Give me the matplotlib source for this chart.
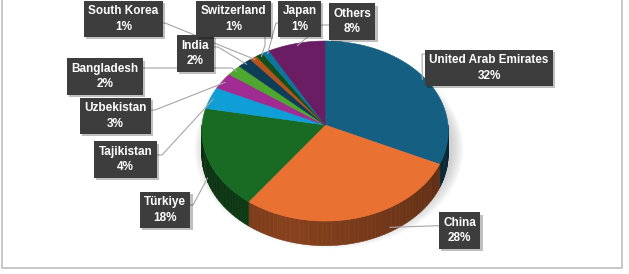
import numpy as np
import matplotlib
matplotlib.use("Agg")
import matplotlib.pyplot as plt
from matplotlib.patches import Polygon, Rectangle
from matplotlib import patheffects as pe
from matplotlib.colors import to_rgb

# ---------------- data ----------------
countries = ["United Arab Emirates", "China", "Türkiye", "Tajikistan", "Uzbekistan",
             "Bangladesh", "India", "South Korea", "Switzerland", "Japan", "Others"]
shares = [32, 28, 18, 4, 3, 2, 2, 1, 1, 1, 8]
pct_labels = ["32%", "28%", "18%", "4%", "3%", "2%", "2%", "1%", "1%", "1%", "8%"]
colors = ["#156082", "#E97132", "#196B24", "#0F9ED5", "#A02B93", "#4EA72E",
          "#0E3E57", "#B5531C", "#124F1A", "#0B76A0", "#6B1D63"]

# ---------------- layout (pixels) ----------------
label_pos = {
    "United Arab Emirates": (489, 68), "China": (459.5, 230.5), "Türkiye": (165, 210),
    "Tajikistan": (125.5, 159.5), "Uzbekistan": (115.5, 116), "Bangladesh": (105, 76.5),
    "India": (195.5, 53.5), "South Korea": (123.5, 19), "Switzerland": (233.5, 19),
    "Japan": (299.5, 19), "Others": (352, 21.5),
}
routes = {
    "United Arab Emirates": [(440, 54), (422, 54)],
    "China": [(459, 225)],
    "Türkiye": [(165, 205), (193, 205)],
    "Tajikistan": [(125, 155), (162, 155)],
    "Uzbekistan": [(115, 110), (155, 110)],
    "Bangladesh": [(105, 68), (232, 68)],
    "India": [(195, 47), (218, 47)],
    "South Korea": [(123, 23), (165, 23)],
    "Switzerland": [(265, 20), (265, 45)],
    "Japan": [(300, 23), (276, 23)],
    "Others": [(352, 25), (322, 25)],
}
anchor_frac = {"China": 0.35}

W, H = 629, 274
CX, CY, A, B, K, DEPTH = 325, 125, 123, 89.6, 0.067, 23

fig = plt.figure(figsize=(W / 100, H / 100), dpi=100)
ax = fig.add_axes([0, 0, 1, 1])
ax.set_xlim(0, W)
ax.set_ylim(H, 0)
ax.axis("off")


def proj(theta, r=1.0, z=0.0):
    t = np.radians(theta)
    s, c = np.sin(t) * r, np.cos(t) * r
    p = 1.0 / (1.0 + K * c)
    return CX + A * s * p, CY - B * c * p + z * p


def arc(t0, t1, r=1.0, z=0.0, n=None):
    if n is None:
        n = max(3, int(abs(t1 - t0) / 1.0) + 2)
    ts = np.linspace(t0, t1, n)
    return [proj(t, r, z) for t in ts]


# soft shadow
for sc in np.linspace(1.09, 1.0, 8):
    pts = arc(0, 360, sc, DEPTH * 0.6)
    pts = [(x + 4, y + 3) for x, y in pts]
    ax.add_patch(Polygon(pts, closed=True, fc="#808080", ec="none", alpha=0.05, zorder=1))

# slice angles
total = float(sum(shares))
bounds = np.concatenate([[0], np.cumsum(shares)]) / total * 360.0

# sides (front half)
for i, col in enumerate(colors):
    t0, t1 = bounds[i], bounds[i + 1]
    lo, hi = max(t0, 90), min(t1, 270)
    if hi <= lo:
        continue
    segs = np.append(np.arange(lo, hi, 2.0), hi)
    base = np.array(to_rgb(col))
    for a0, a1 in zip(segs[:-1], segs[1:]):
        mid = 0.5 * (a0 + a1)
        f = 0.36 + 0.22 * max(0.0, 1 - abs(mid - 195) / 105)
        top = arc(a0, a1, 1.0, 0.0, 4)
        bot = arc(a1, a0, 1.0, DEPTH, 4)
        c = np.clip(base * f, 0, 1)
        ax.add_patch(Polygon(top + bot, closed=True, fc=c, ec=c, lw=0.4, zorder=2))

# top faces
for i, col in enumerate(colors):
    t0, t1 = bounds[i], bounds[i + 1]
    pts = [proj(0, 0.0)] + arc(t0, t1)
    ax.add_patch(Polygon(pts, closed=True, fc=col, ec=col, lw=0.4, zorder=3))

# leader lines and labels
for i, name in enumerate(countries):
    t0, t1 = bounds[i], bounds[i + 1]
    frac = anchor_frac.get(name, 0.5)
    mid = t0 + frac * (t1 - t0)
    if 100 < mid < 260:
        anc = proj(mid, 1.0, DEPTH * 0.8)
    else:
        anc = proj(mid, 0.97, 0.0)
    pts = routes[name] + [anc]
    xs, ys = zip(*pts)
    ax.plot(xs, ys, color="#a6a6a6", lw=0.8, zorder=4, solid_capstyle="butt")

    lx, ly = label_pos[name]
    txt = ax.text(lx, ly, f"{name}\n{pct_labels[i]}", ha="center", va="center",
                  multialignment="center", color="white", fontsize=8.5, fontweight="bold",
                  family=["Liberation Sans", "DejaVu Sans"], linespacing=1.35,
                  zorder=6,
                  bbox=dict(boxstyle="square,pad=0.38", fc="#3d3d3d", ec="none"))
    txt.get_bbox_patch().set_path_effects(
        [pe.SimplePatchShadow(offset=(1.5, -1.5), shadow_rgbFace="#000000", alpha=0.25), pe.Normal()])

# chart border
ax.add_patch(Rectangle((1.5, -3), 620.5, 270.5, fill=False, ec="#bfbfbf", lw=1.2, zorder=0))

fig.savefig("out.png", dpi=100, facecolor="white")
